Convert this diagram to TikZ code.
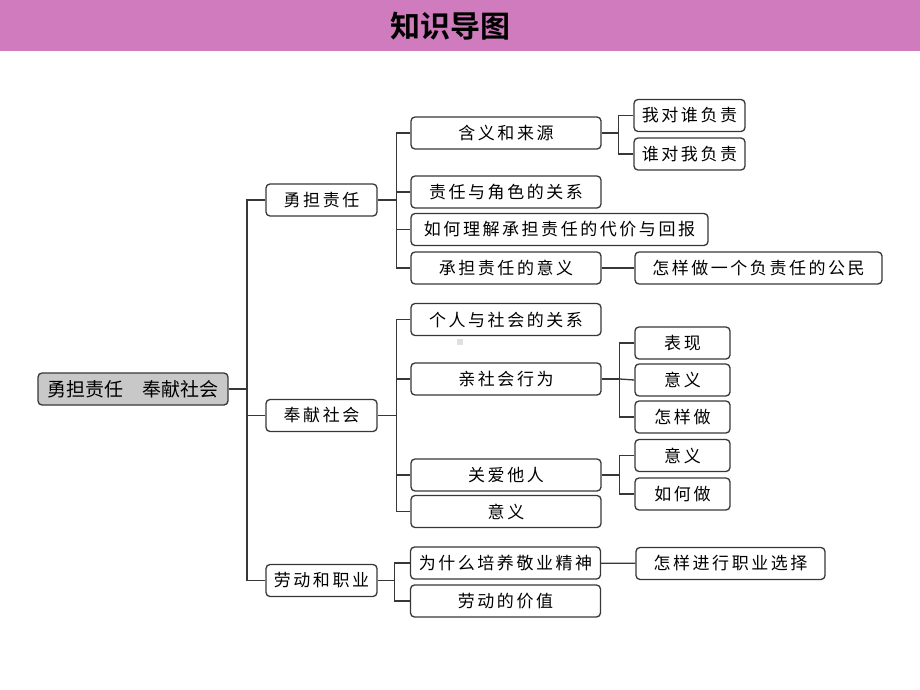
\documentclass[tikz,border=0pt]{standalone}
\usepackage{fontspec}
\setmainfont{Noto Sans CJK SC}
\newfontfamily\boxfont[LetterSpace=15]{Noto Sans CJK SC}
\newfontfamily\titlefont{Noto Sans CJK SC Bold}
\definecolor{headpink}{RGB}{208,123,189}
\definecolor{linegray}{RGB}{55,55,55}
\definecolor{rootgray}{RGB}{200,200,200}

\begin{document}
\begin{tikzpicture}[x=1pt,y=-1pt,
    box/.style={draw=linegray,line width=1.3pt,rounded corners=4pt,minimum height=32pt,
      inner sep=0pt,font=\boxfont\fontsize{17}{20}\selectfont},
    rootbox/.style={box,fill=rootgray,font=\fontsize{19}{22}\selectfont},
    link/.style={draw=linegray,line width=1.3pt}]
    \useasboundingbox (0,0) rectangle (920,690);
    \fill[headpink] (0,0) rectangle (920,51);
    \node[font=\titlefont\fontsize{30}{34}\selectfont] (title) at (450,26) {知识导图};

    \node[rootbox,minimum width=190pt] (root) at (133,389) {勇担责任　奉献社会};

    \node[box,minimum width=111pt] (duty) at (321.5,200) {勇担责任};
    \node[box,minimum width=111pt] (give) at (321.5,415.5) {奉献社会};
    \node[box,minimum width=111pt] (work) at (321.5,580.5) {劳动和职业};

    \node[box,minimum width=190pt] (meaning) at (506,133) {含义和来源};
    \node[box,minimum width=111pt] (toWhom) at (689.5,115.5) {我对谁负责};
    \node[box,minimum width=111pt] (forMe) at (689.5,154) {谁对我负责};
    \node[box,minimum width=190pt] (role) at (506,192) {责任与角色的关系};
    \node[box,minimum width=297pt] (cost) at (559.5,229.5) {如何理解承担责任的代价与回报};
    \node[box,minimum width=190pt] (value) at (506,268) {承担责任的意义};
    \node[box,minimum width=247pt] (citizen) at (758.5,268) {怎样做一个负责任的公民};

    \node[box,minimum width=190pt] (society) at (506,319.5) {个人与社会的关系};
    \node[box,minimum width=190pt] (prosocial) at (506,379) {亲社会行为};
    \node[box,minimum width=95pt] (show) at (682.5,343) {表现};
    \node[box,minimum width=95pt] (psMean) at (682.5,380) {意义};
    \node[box,minimum width=95pt] (psHow) at (682.5,417) {怎样做};
    \node[box,minimum width=190pt] (care) at (506,475) {关爱他人};
    \node[box,minimum width=95pt] (careMean) at (682.5,455.5) {意义};
    \node[box,minimum width=95pt] (careHow) at (682.5,494) {如何做};
    \node[box,minimum width=190pt] (giveMean) at (506,511.5) {意义};

    \node[box,minimum width=190pt] (spirit) at (505.5,563) {为什么培养敬业精神};
    \node[box,minimum width=189pt] (career) at (730.5,563.5) {怎样进行职业选择};
    \node[box,minimum width=190pt] (labour) at (505.5,601) {劳动的价值};

    \fill[black!12] (457,339) rectangle (463,345);

    % trunk
    \coordinate (t0) at (247,389);
    \path[link] (root) -- (t0);
    \path[link] (duty.west) -| (t0) |- (work.west);
    \path[link] (t0) |- (give.west);

    % 勇担责任
    \path[link] (duty.east) -- ++(19,0) coordinate (t1);
    \path[link] (meaning.west) -| (t1) |- (value.west);
    \path[link] (t1) |- (role.west);
    \path[link] (t1) |- (cost.west);
    \path[link] (meaning.east) -- ++(17,0) coordinate (t11);
    \path[link] (toWhom.west) -| (t11) |- (forMe.west);
    \path[link] (value) -- (citizen);

    % 奉献社会
    \path[link] (give.east) -- ++(19,0) coordinate (t2);
    \path[link] (society.west) -| (t2) |- (giveMean.west);
    \path[link] (t2) |- (prosocial.west);
    \path[link] (t2) |- (care.west);
    \path[link] (prosocial.east) -- ++(18,0) coordinate (t21);
    \path[link] (show.west) -| (t21) |- (psHow.west);
    \path[link] (t21) -- (psMean.west);
    \path[link] (care.east) -- ++(18,0) coordinate (t22);
    \path[link] (careMean.west) -| (t22) |- (careHow.west);

    % 劳动和职业
    \path[link] (work.east) -- ++(17,0) coordinate (t3);
    \path[link] (spirit.west) -| (t3) |- (labour.west);
    \path[link] (spirit) -- (career);
\end{tikzpicture}
\end{document}
